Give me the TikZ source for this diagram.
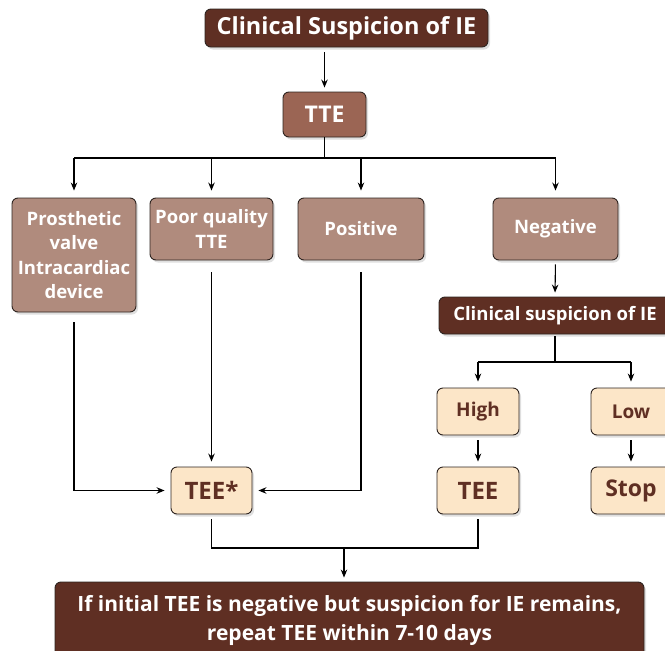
\documentclass[tikz,border=0pt]{standalone}
\usepackage{fontspec}
\setmainfont{Open Sans}
\usetikzlibrary{arrows.meta,shadows}
\definecolor{darkbr}{HTML}{5F2F23}
\definecolor{midbr}{HTML}{9B6554}
\definecolor{lightbr}{HTML}{B08B7D}
\definecolor{cream}{HTML}{FCE6C8}
\definecolor{edge}{HTML}{2E2420}
\tikzset{
  box/.style={draw=edge, line width=0.9pt, rounded corners=6pt, align=center,
    font=\bfseries, inner sep=2pt,
    drop shadow={shadow xshift=2pt, shadow yshift=-2.5pt, opacity=0.25}},
  darkbox/.style={box, fill=darkbr, text=white},
  midbox/.style={box, fill=midbr, text=white},
  lightbox/.style={box, fill=lightbr, text=white},
  creambox/.style={box, fill=cream, text=darkbr},
  conn/.style={line width=1.1pt, draw=black},
  arr/.style={conn, -{Stealth[length=8pt,width=6.5pt]}},
}
\begin{document}
\begin{tikzpicture}[x=1pt,y=-1pt]
\useasboundingbox (0,0) rectangle (665,651);
\node[darkbox, minimum width=283pt, minimum height=38pt, font=\bfseries\fontsize{23.5}{26}\selectfont] (top) at (346.5,28) {Clinical Suspicion of IE};
\node[midbox, minimum width=83pt, minimum height=45pt, font=\bfseries\fontsize{23}{26}\selectfont] (tte) at (324.5,114.5) {TTE};
\node[lightbox, minimum width=124pt, minimum height=114pt, font=\bfseries\fontsize{18.5}{24.5}\selectfont] (pv) at (74,255) {Prosthetic\\valve\\Intracardiac\\device};
\node[lightbox, minimum width=123pt, minimum height=62pt, font=\bfseries\fontsize{18.5}{24.5}\selectfont] (pq) at (211.5,229) {Poor quality\\TTE};
\node[lightbox, minimum width=126pt, minimum height=62pt, font=\bfseries\fontsize{18.5}{24.5}\selectfont] (pos) at (361,229) {Positive};
\node[lightbox, minimum width=125pt, minimum height=62pt, font=\bfseries\fontsize{18.5}{24.5}\selectfont] (neg) at (555.5,229) {Negative};
\node[darkbox, minimum width=232pt, minimum height=37pt, font=\bfseries\fontsize{18.5}{22}\selectfont] (cs) at (555,315.5) {Clinical suspicion of IE};
\node[creambox, minimum width=82pt, minimum height=47pt, font=\bfseries\fontsize{19}{22}\selectfont] (high) at (478,411.5) {High};
\node[creambox, minimum width=80pt, minimum height=47pt, font=\bfseries\fontsize{19}{22}\selectfont] (low) at (631,411.5) {Low};
\node[creambox, minimum width=82pt, minimum height=47pt, font=\bfseries\fontsize{24}{26}\selectfont] (tee) at (478,490.5) {TEE};
\node[creambox, minimum width=80pt, minimum height=47pt, font=\bfseries\fontsize{23}{26}\selectfont] (stop) at (631,490.5) {Stop};
\node[creambox, minimum width=81pt, minimum height=47pt, font=\bfseries\fontsize{24}{26}\selectfont] (teestar) at (211.5,490.5) {TEE*};
\node[darkbox, minimum width=589pt, minimum height=76pt, font=\bfseries\fontsize{21}{29}\selectfont] (bot) at (349.5,620) {If initial TEE is negative but suspicion for IE remains,\\repeat TEE within 7-10 days};
% connectors
\coordinate (j1) at (324.5,158);
\coordinate (j2) at (555,362);
\coordinate (j3) at (344,548);
\draw[arr, shorten <=5pt, shorten >=4pt] (tte.north |- top.south) -- (tte.north);
\draw[conn] (tte.south) -- (j1);
\draw[conn] (pv.north |- j1) -- (neg.north |- j1);
\foreach \n in {pv,pq,pos,neg}{
  \draw[arr, shorten >=7pt] (\n.north |- j1) -- (\n.north);
}
\draw[arr, shorten <=10pt, shorten >=6pt] (pv.south) |- (teestar.west);
\draw[arr, shorten <=12pt, shorten >=5pt] (pq.south) -- (teestar.north);
\draw[arr, shorten <=12pt, shorten >=6pt] (pos.south) |- (teestar.east);
\draw[arr, shorten <=4pt, shorten >=4pt] (neg.south) -- (cs.north);
\draw[conn, shorten <=2pt] (cs.south) -- (j2);
\draw[conn] (high.north |- j2) -- (low.north |- j2);
\draw[arr, shorten >=6pt] (high.north |- j2) -- (high.north);
\draw[arr, shorten >=6pt] (low.north |- j2) -- (low.north);
\draw[arr, shorten <=5pt, shorten >=5pt] (high.south) -- (tee.north);
\draw[arr, shorten <=5pt, shorten >=5pt] (low.south) -- (stop.north);
\draw[conn, shorten <=5pt] (teestar.south) |- (j3);
\draw[conn, shorten <=5pt] (tee.south) |- (j3);
\draw[arr, shorten >=4pt] (j3) -- (j3 |- bot.north);
\end{tikzpicture}
\end{document}
